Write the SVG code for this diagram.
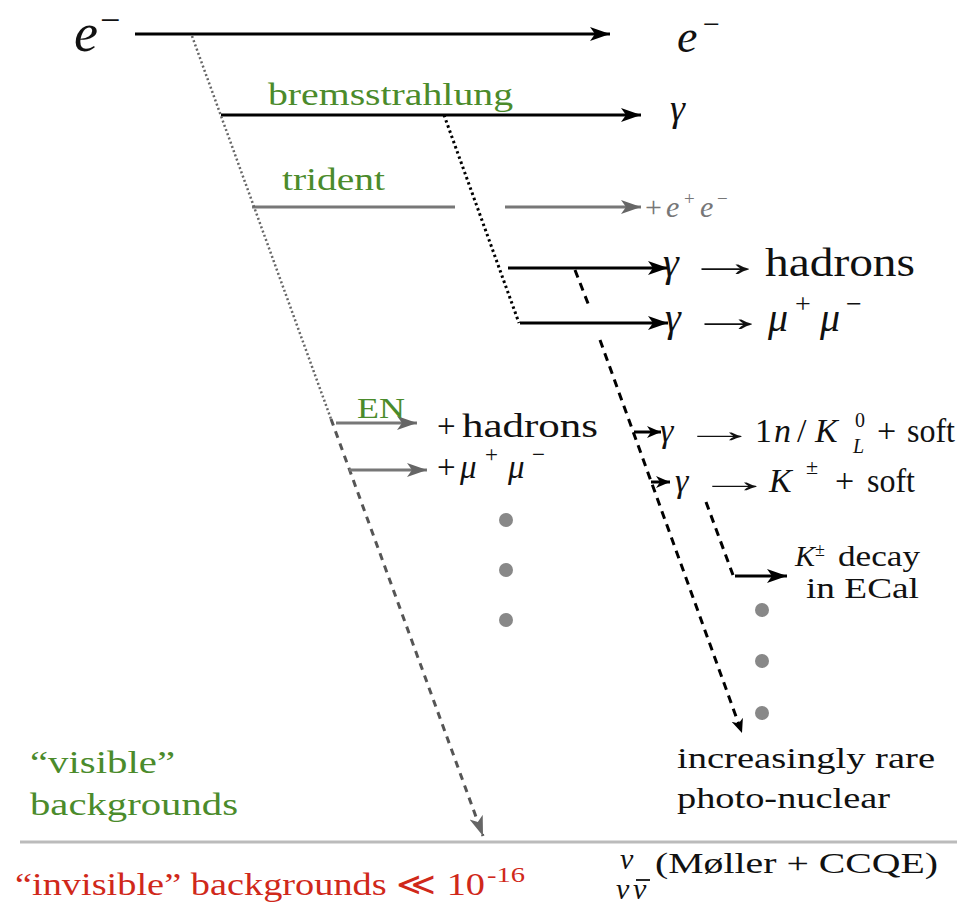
<svg xmlns="http://www.w3.org/2000/svg" width="957" height="913" viewBox="0 0 957 913" font-family="'Liberation Serif', 'Times New Roman', serif">
<style>
text{font-family:'Liberation Serif','Times New Roman',serif;}
.i{font-style:italic;}
.g{fill:#4b8b2b;}
.r{fill:#d0281a;}
.k{fill:#111;}
.gr{fill:#777;}
.blk{stroke:#000;stroke-width:3;fill:none;}
.gry{stroke:#777;stroke-width:3;fill:none;}
.dotk{stroke:#000;stroke-width:3;stroke-dasharray:2.5 3;fill:none;}
.dotg{stroke:#666;stroke-width:2.5;stroke-dasharray:2 2.5;fill:none;}
.dashk{stroke:#000;stroke-width:3;stroke-dasharray:8 6;fill:none;}
.dashg{stroke:#555;stroke-width:3;stroke-dasharray:7 6;fill:none;}
.dot{fill:#888;}
</style>
<defs>
<marker id="ak" markerUnits="userSpaceOnUse" markerWidth="22" markerHeight="16" refX="20" refY="8" orient="auto"><path d="M0,1 L20,8 L0,15 L5,8 Z" fill="#000"/></marker>
<marker id="ag" markerUnits="userSpaceOnUse" markerWidth="22" markerHeight="16" refX="20" refY="8" orient="auto"><path d="M0,1 L20,8 L0,15 L5,8 Z" fill="#666"/></marker>
<marker id="aks" markerUnits="userSpaceOnUse" markerWidth="16" markerHeight="14" refX="14" refY="7" orient="auto"><path d="M0,1 L14,7 L0,13 L4,7 Z" fill="#000"/></marker>
</defs>
<rect width="957" height="913" fill="#fff"/>

<g id="connectors">
  <line class="blk" x1="135" y1="34" x2="610" y2="34" marker-end="url(#ak)"/>
  <line class="blk" x1="221" y1="115" x2="641" y2="115" marker-end="url(#ak)"/>
  <line class="gry" x1="252" y1="207" x2="455" y2="207"/>
  <line class="gry" x1="505" y1="207" x2="641" y2="207" marker-end="url(#ag)"/>
  <line class="blk" x1="508" y1="268" x2="668" y2="268" marker-end="url(#ak)"/>
  <line class="blk" x1="520" y1="323" x2="668" y2="323" marker-end="url(#ak)"/>
  <line class="dotg" x1="192" y1="36" x2="331" y2="419"/>
  <line class="dashg" x1="331" y1="419" x2="483" y2="836" marker-end="url(#ag)"/>
  <line class="dotk" x1="444" y1="115" x2="519" y2="323"/>
  <line class="dashk" x1="575" y1="270" x2="589" y2="306"/>
  <line class="dashk" x1="600" y1="340" x2="742" y2="733" marker-end="url(#aks)"/>
  <line class="blk" x1="634" y1="432" x2="661" y2="432" marker-end="url(#aks)"/>
  <line class="blk" x1="651" y1="482" x2="670" y2="482" marker-end="url(#aks)"/>
  <line class="dashk" x1="706" y1="502" x2="733" y2="575"/>
  <line class="blk" x1="735" y1="576" x2="787" y2="576" marker-end="url(#ak)"/>
  <line class="gry" x1="336" y1="423" x2="417" y2="423" marker-end="url(#ag)"/>
  <line class="gry" x1="349" y1="470" x2="427" y2="470" marker-end="url(#ag)"/>
  <line x1="20" y1="842" x2="957" y2="842" stroke="#bbb" stroke-width="3"/>
</g>

<g id="e-in"><text class="i k" x="74" y="51" font-size="54">e</text><text class="k" x="100" y="32" font-size="36">−</text></g>
<g id="e-out"><text class="i k" x="677" y="52" font-size="46">e</text><text class="k" x="703" y="34" font-size="30">−</text></g>
<g id="brems"><text class="g" x="268" y="105" font-size="32" textLength="245" lengthAdjust="spacingAndGlyphs">bremsstrahlung</text></g>
<g id="gamma"><text class="i k" x="670" y="121" font-size="38">γ</text></g>
<g id="trident"><text class="g" x="282" y="190" font-size="31" textLength="103" lengthAdjust="spacingAndGlyphs">trident</text></g>
<g id="ee"><text class="gr" x="645" y="217" font-size="30">+<tspan class="i" x="666">e</tspan><tspan font-size="19" x="684" y="205">+</tspan><tspan class="i" x="700" y="217">e</tspan><tspan font-size="19" x="717" y="205">−</tspan></text></g>
<g id="g-had"><text class="i k" x="663" y="276" font-size="40">γ</text><text class="k" transform="translate(685,276) scale(2.0,1)" font-size="40">→</text><text class="k" x="765" y="276" font-size="40" textLength="150" lengthAdjust="spacingAndGlyphs">hadrons</text></g>
<g id="g-mumu"><text class="i k" x="665" y="331" font-size="40">γ</text><text class="k" transform="translate(688,331) scale(2.0,1)" font-size="40">→</text><text class="k" x="768" y="331" font-size="40"><tspan class="i">μ</tspan><tspan x="795" y="313" font-size="28">+</tspan><tspan x="820" y="331" class="i">μ</tspan><tspan x="846" y="313" font-size="28">−</tspan></text></g>
<g id="EN"><text class="g" x="357" y="418" font-size="30" textLength="48" lengthAdjust="spacingAndGlyphs">EN</text></g>
<g id="p-had"><text class="k" x="437" y="437" font-size="33">+</text><text class="k" x="462" y="437" font-size="33" textLength="136" lengthAdjust="spacingAndGlyphs">hadrons</text></g>
<g id="p-mumu"><text class="k" x="437" y="478" font-size="33"><tspan>+</tspan><tspan class="i" x="460">μ</tspan><tspan x="485" y="462" font-size="23">+</tspan><tspan class="i" x="508" y="478">μ</tspan><tspan x="532" y="462" font-size="23">−</tspan></text></g>
<g id="g-n"><text class="i k" x="660" y="442" font-size="34">γ</text><text class="k" transform="translate(682,442) scale(2.2,1)" font-size="34">→</text><text class="k" x="755" y="442" font-size="34"><tspan>1</tspan><tspan class="i" x="774">n</tspan><tspan x="797">/</tspan><tspan class="i" x="815">K</tspan><tspan x="855" y="427" font-size="20">0</tspan><tspan class="i" x="853" y="453" font-size="20">L</tspan><tspan x="877" y="442">+</tspan></text><text class="k" x="907" y="442" font-size="34" textLength="48" lengthAdjust="spacingAndGlyphs">soft</text></g>
<g id="g-K"><text class="i k" x="675" y="492" font-size="34">γ</text><text class="k" transform="translate(697,492) scale(2.2,1)" font-size="34">→</text><text class="k" x="769" y="492" font-size="34"><tspan class="i">K</tspan><tspan x="806" y="474" font-size="22">±</tspan><tspan x="835" y="492">+</tspan></text><text class="k" x="867" y="492" font-size="34" textLength="48" lengthAdjust="spacingAndGlyphs">soft</text></g>
<g id="Kdecay"><text class="k" x="795" y="566" font-size="30"><tspan class="i">K</tspan><tspan font-size="18" dy="-10">±</tspan></text><text class="k" x="838" y="566" font-size="30" textLength="82" lengthAdjust="spacingAndGlyphs">decay</text><text class="k" x="806" y="598" font-size="30" textLength="113" lengthAdjust="spacingAndGlyphs">in ECal</text></g>
<g id="dots-left"><circle class="dot" cx="506" cy="520" r="7"/><circle class="dot" cx="506" cy="570" r="7"/><circle class="dot" cx="506" cy="620" r="7"/></g>
<g id="dots-right"><circle class="dot" cx="762" cy="610" r="7"/><circle class="dot" cx="762" cy="661" r="7"/><circle class="dot" cx="762" cy="713" r="7"/></g>
<g id="rare"><text class="k" x="677" y="768" font-size="30" textLength="258" lengthAdjust="spacingAndGlyphs">increasingly rare</text><text class="k" x="677" y="808" font-size="30" textLength="213" lengthAdjust="spacingAndGlyphs">photo-nuclear</text></g>
<g id="visible"><text class="g" x="30" y="773" font-size="32" textLength="145" lengthAdjust="spacingAndGlyphs">“visible”</text><text class="g" x="30" y="815" font-size="32" textLength="208" lengthAdjust="spacingAndGlyphs">backgrounds</text></g>
<g id="invisible"><text class="r" x="15" y="895" font-size="32" textLength="470" lengthAdjust="spacingAndGlyphs">“invisible” backgrounds ≪ 10</text><text class="r" x="487" y="882" font-size="22" textLength="38" lengthAdjust="spacingAndGlyphs">-16</text></g>
<g id="nu"><text class="i k" x="620" y="869" font-size="30">ν</text><text class="k" x="655" y="873" font-size="30" textLength="283" lengthAdjust="spacingAndGlyphs">(Møller + CCQE)</text><text class="i k" x="616" y="899" font-size="30">ν</text><text class="i k" x="633" y="899" font-size="30">ν</text><line x1="636" y1="880" x2="650" y2="880" stroke="#111" stroke-width="1.8"/></g>
</svg>
